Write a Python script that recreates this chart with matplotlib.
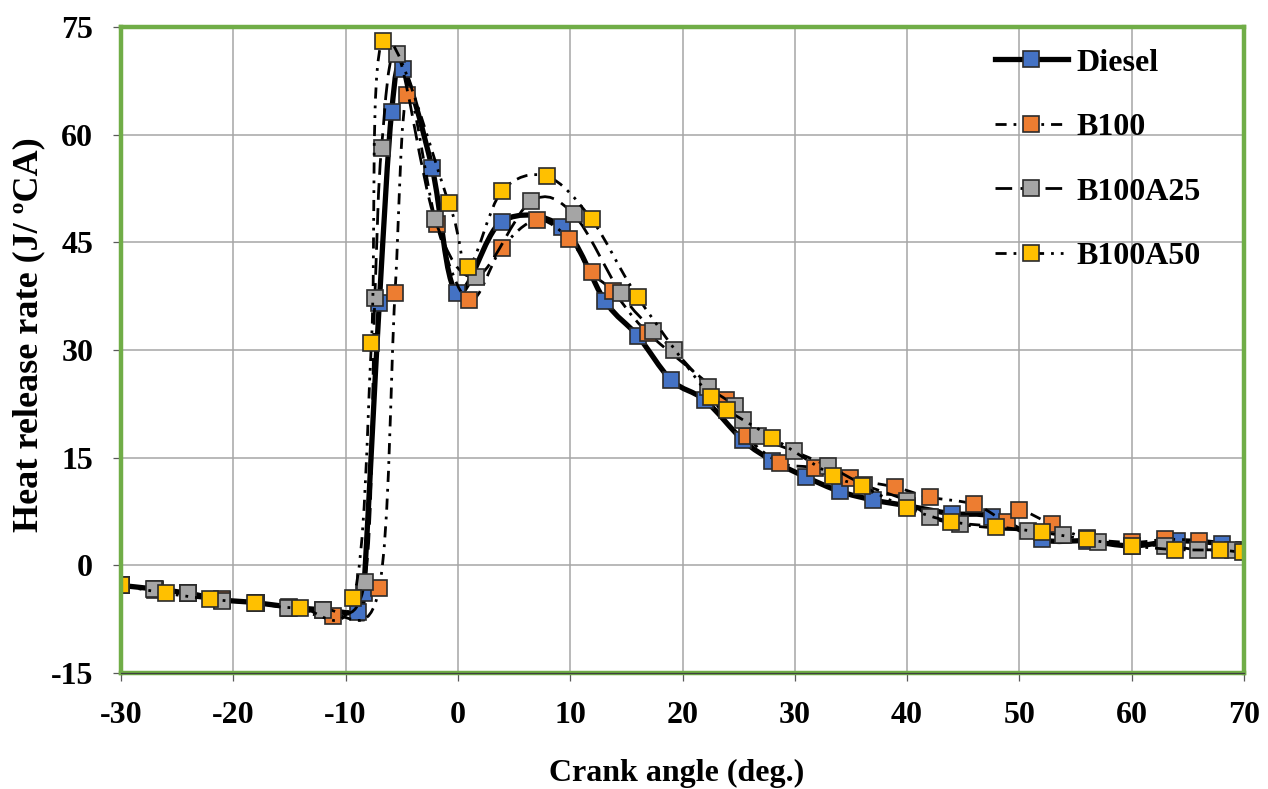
import numpy as np
import matplotlib
matplotlib.use("Agg")
import matplotlib.pyplot as plt
from matplotlib.path import Path
from matplotlib.patches import PathPatch
from matplotlib.lines import Line2D

plt.rcParams["font.family"] = ["Liberation Serif", "DejaVu Serif"]
plt.rcParams["font.weight"] = "bold"
plt.rcParams["axes.unicode_minus"] = False

# Heat release rate (J/°CA) against crank angle (deg.)
diesel_x = [-30, -27, -24, -21, -18, -15, -12, -8.9, -8.4, -7.0, -5.9, -4.9, -2.3, -0.1,
            3.9, 9.3, 13.1, 16.0, 19.0, 22.0, 25.4, 28.0, 31.0, 34.0, 37.0, 40.0, 44.0,
            47.6, 52.0, 56.0, 60.0, 64.0, 68.0, 70.0]
diesel_y = [-2.8, -3.3, -3.9, -4.8, -5.2, -5.8, -6.2, -6.5, -3.8, 36.5, 63.2, 69.2, 55.4, 38.0,
            47.9, 47.1, 36.8, 32.0, 25.8, 23.0, 17.4, 14.6, 12.3, 10.3, 9.1, 8.3, 7.2,
            6.8, 3.6, 3.4, 2.7, 3.4, 3.0, 2.0]

b100_x = [-30, -27, -24, -21, -18, -15, -11.1, -7.0, -5.6, -4.5, -1.9, 1.0, 3.9, 7.0, 9.9,
          11.9, 13.8, 16.9, 23.9, 25.7, 28.7, 31.8, 34.9, 38.9, 42.0, 46.0, 48.9, 50.0,
          52.9, 56.0, 60.0, 63.0, 66.0, 70.0]
b100_y = [-2.8, -3.4, -3.9, -4.7, -5.3, -5.9, -7.0, -3.1, 37.9, 65.5, 47.5, 36.9, 44.2, 48.1,
          45.5, 40.8, 38.2, 32.4, 23.0, 18.0, 14.3, 13.6, 12.1, 10.9, 9.5, 8.5, 6.1, 7.7,
          5.7, 3.8, 3.2, 3.6, 3.4, 2.2]

b100a25_x = [-30, -27.1, -24.0, -21.0, -18.0, -15.1, -12.0, -8.3, -7.4, -6.8, -5.4, -2.05,
             1.6, 6.5, 10.3, 14.5, 17.4, 19.2, 22.3, 24.7, 25.4, 26.7, 29.9, 33.0, 36.2,
             40.0, 42.0, 44.7, 50.8, 53.9, 57.0, 63.0, 65.9, 69.0]
b100a25_y = [-2.8, -3.3, -3.9, -4.9, -5.2, -5.9, -6.2, -2.3, 37.2, 58.2, 71.3, 48.2,
             40.2, 50.7, 48.9, 37.9, 32.7, 30.0, 24.9, 22.2, 20.3, 18.0, 15.9, 13.8, 11.2,
             9.0, 6.8, 5.7, 4.8, 4.2, 3.2, 2.7, 2.2, 2.2]

b100a50_x = [-30, -26.0, -22.1, -18.1, -14.1, -9.3, -7.7, -6.7, -0.8, 0.9, 3.9, 7.9, 11.9,
             16.0, 22.5, 24.0, 28.0, 33.4, 36.0, 40.0, 43.9, 47.9, 52.0, 56.0, 60.0, 63.9,
             67.9, 69.9]
b100a50_y = [-2.8, -3.9, -4.7, -5.3, -5.9, -4.6, 31.0, 73.1, 50.5, 41.6, 52.1, 54.2, 48.2,
             37.4, 23.4, 21.6, 17.8, 12.5, 11.0, 8.0, 6.1, 5.4, 4.6, 3.6, 2.7, 2.2,
             2.1, 1.8]

labels = ["Diesel", "B100", "B100A25", "B100A50"]
colors = ["#4472C4", "#ED7D31", "#A5A5A5", "#FFC000"]
styles = ["-", (0, (4, 2.5, 1, 2.5)), (0, (6, 3)), (0, (4, 2.5, 1, 2.5, 1, 2.5))]
widths = [3.8, 2.0, 2.0, 2.0]
series = [(diesel_x, diesel_y), (b100_x, b100_y), (b100a25_x, b100a25_y), (b100a50_x, b100a50_y)]


def smooth_path(x, y):
    """Cubic Bezier path through the points (Catmull-Rom style smoothing)."""
    pts = np.column_stack([x, y]).astype(float)
    n = len(pts)
    verts = [pts[0]]
    codes = [Path.MOVETO]
    for i in range(n - 1):
        p0 = pts[i - 1] if i > 0 else pts[i]
        p1 = pts[i]
        p2 = pts[i + 1]
        p3 = pts[i + 2] if i + 2 < n else pts[i + 1]
        c1 = p1 + (p2 - p0) / 6.0
        c2 = p2 - (p3 - p1) / 6.0
        verts += [c1, c2, p2]
        codes += [Path.CURVE4] * 3
    return Path(np.array(verts), codes)


fig = plt.figure(figsize=(12.68, 7.89), dpi=100)
ax = fig.add_axes([121 / 1268, 1 - 673 / 789, 1123 / 1268, 646 / 789])

for i, ((xs, ys), lab, col, ls, lw) in enumerate(zip(series, labels, colors, styles, widths)):
    patch = PathPatch(smooth_path(xs, ys), facecolor="none", edgecolor="black",
                      linewidth=lw, linestyle=ls, zorder=3 + 2 * i, capstyle="butt")
    ax.add_patch(patch)
    ax.plot(xs, ys, linestyle="none", marker="s", markersize=12,
            markerfacecolor=col, markeredgecolor="#2b2b2b", markeredgewidth=1.2,
            zorder=4 + 2 * i)

ax.set_xlim(-30, 70)
ax.set_ylim(-15, 75)
ax.set_xticks(np.arange(-30, 71, 10))
ax.set_yticks(np.arange(-15, 76, 15))
ax.grid(True, color="#A6A6A6", linewidth=1.1, zorder=0)
ax.set_axisbelow(True)

for side in ["top", "bottom", "left", "right"]:
    ax.spines[side].set_color("#70AD47")
    ax.spines[side].set_linewidth(3.2)
    ax.spines[side].set_zorder(20)
ax.axhline(-15, color="#404040", linewidth=0.9, zorder=21, clip_on=False)

ax.tick_params(axis="both", which="major", direction="out", length=6, width=0.9,
               color="#595959", labelsize=23)
ax.tick_params(axis="x", pad=14)
ax.tick_params(axis="y", pad=14)
for lbl in ax.get_xticklabels() + ax.get_yticklabels():
    lbl.set_fontweight("bold")

fig.text(677 / 1268, 1 - 781 / 789, "Crank angle (deg.)", ha="center", va="baseline",
         fontsize=23, fontweight="bold")
fig.text(29 / 1268, 1 - 335 / 789, "Heat release rate (J/ \u00baCA)", ha="center",
         va="center", rotation=90, fontsize=26, fontweight="bold")

handles = [Line2D([0], [0], color="black", linewidth=w, linestyle=s, marker="s",
                  markersize=12, markerfacecolor=c, markeredgecolor="#2b2b2b",
                  markeredgewidth=1.2)
           for c, s, w in zip(colors, styles, widths)]
leg = ax.legend(handles, labels, loc="upper left", bbox_to_anchor=(0.778, 0.967),
                frameon=False, fontsize=23, handlelength=2.3, handletextpad=0.25,
                labelspacing=1.1, borderpad=0.0, borderaxespad=0.0)
for t in leg.get_texts():
    t.set_fontweight("bold")
leg.set_zorder(30)

fig.savefig("out.png", dpi=100)
